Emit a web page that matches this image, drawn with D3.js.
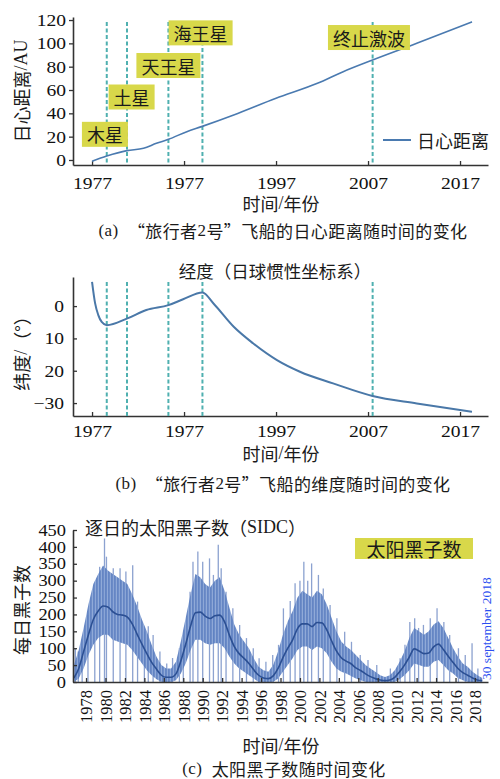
<!DOCTYPE html>
<html>
<head>
<meta charset="utf-8">
<script src="https://cdn.jsdelivr.net/npm/d3@7"></script>
<style>
  body { margin: 0; background: #fff; }
  svg { display: block; }
</style>
</head>
<body>
<div id="chart"></div>
<script>
// ---- data ----

// (a) heliocentric distance of Voyager 2, AU
const distYears = [1977.0, 1978.6, 1980.8, 1982.6, 1984.0, 1985.3, 1987.3, 1988.9, 1992.4, 1997.0, 2001.5, 2004.3, 2007.5, 2012.3, 2018.3]
const distAU = [-1, 3.4, 8, 10, 14.3, 17.7, 24.3, 28.6, 38.6, 52.9, 65.7, 75.7, 85.7, 100, 118.5]

// events (dashed lines) and their label boxes
const eventYears = [1978.6, 1980.8, 1985.3, 1989.0, 2007.5]
const eventNames = ['木星', '土星', '天王星', '海王星', '终止激波']
const eventLabelYears = [1978.4, 1981.3, 1985.3, 1988.8, 2007.1]
const eventLabelAU = [22, 54, 81, 109, 105]

// x ticks of (a) and (b), labels as printed
const voyTicks = [1977, 1987, 1997, 2007, 2017]
const voyTickLabels = ['1977', '1977', '1997', '2007', '2017']
const distTicks = [0, 20, 40, 60, 80, 100, 120]

// (b) latitude, degrees
const latYears = [1977.0, 1977.33, 1977.68, 1978.05, 1978.6, 1980.84, 1982.9, 1985.3, 1986.9, 1989.0, 1990.2, 1992.4, 1994.5, 1997.1, 1999.6, 2003.2, 2007.5, 2012.3, 2018.3]
const latDeg = [7.5, 0.9, -2.8, -4.9, -5.9, -3.8, -1.2, 0.3, 2.1, 4.2, 0.8, -6.4, -11.5, -16.7, -20.3, -23.9, -27.8, -30.1, -32.7]
const latTicks = [0, -10, -20, -30]
const latTickLabels = ['0', '10', '20', '\u221230']

// (c) daily sunspot number, sampled every half year
const sunYears = [
  1976.75, 1977.25, 1977.75, 1978.25, 1978.75, 1979.25, 1979.75, 1980.25, 1980.75, 1981.25,
  1981.75, 1982.25, 1982.75, 1983.25, 1983.75, 1984.25, 1984.75, 1985.25, 1985.75, 1986.25,
  1986.75, 1987.25, 1987.75, 1988.25, 1988.75, 1989.25, 1989.75, 1990.25, 1990.75, 1991.25,
  1991.75, 1992.25, 1992.75, 1993.25, 1993.75, 1994.25, 1994.75, 1995.25, 1995.75, 1996.25,
  1996.75, 1997.25, 1997.75, 1998.25, 1998.75, 1999.25, 1999.75, 2000.25, 2000.75, 2001.25,
  2001.75, 2002.25, 2002.75, 2003.25, 2003.75, 2004.25, 2004.75, 2005.25, 2005.75, 2006.25,
  2006.75, 2007.25, 2007.75, 2008.25, 2008.75, 2009.25, 2009.75, 2010.25, 2010.75, 2011.25,
  2011.75, 2012.25, 2012.75, 2013.25, 2013.75, 2014.25, 2014.75, 2015.25, 2015.75, 2016.25,
  2016.75, 2017.25, 2017.75, 2018.25, 2018.75]
// smoothed line
const sunSmooth = [
  12, 40, 90, 140, 185, 210, 225, 222, 208, 200,
  198, 192, 172, 142, 112, 84, 58, 38, 20, 14,
  14, 24, 62, 112, 165, 205, 207, 195, 188, 196,
  198, 178, 138, 105, 84, 70, 55, 36, 20, 12,
  10, 18, 40, 72, 100, 125, 158, 172, 172, 164,
  176, 175, 155, 122, 92, 72, 62, 54, 42, 34,
  24, 16, 10, 6, 4, 6, 14, 30, 50, 74,
  98, 92, 84, 86, 104, 112, 96, 76, 58, 40,
  28, 20, 12, 6, 4]
// upper edge of the dense daily band
const sunHigh = [
  50, 95, 160, 230, 290, 320, 345, 330, 320, 310,
  300, 290, 260, 225, 185, 150, 110, 75, 50, 40,
  40, 60, 120, 190, 260, 320, 310, 290, 280, 300,
  310, 270, 220, 170, 140, 120, 100, 70, 45, 35,
  30, 50, 90, 140, 180, 210, 250, 270, 260, 250,
  270, 260, 230, 190, 150, 120, 105, 95, 80, 65,
  50, 40, 30, 20, 15, 20, 35, 60, 90, 130,
  160, 150, 140, 150, 170, 180, 160, 130, 100, 75,
  55, 45, 30, 20, 12]
// lower edge of the dense daily band
const sunLow = [
  0, 10, 40, 80, 110, 130, 140, 140, 125, 120,
  115, 110, 95, 75, 55, 35, 20, 8, 0, 0,
  0, 5, 25, 55, 95, 125, 125, 115, 110, 115,
  115, 100, 75, 55, 40, 30, 20, 10, 0, 0,
  0, 0, 10, 30, 50, 70, 95, 105, 105, 95,
  105, 100, 85, 60, 40, 30, 25, 18, 10, 5,
  0, 0, 0, 0, 0, 0, 0, 8, 20, 35,
  55, 50, 45, 45, 60, 65, 50, 35, 25, 12,
  5, 0, 0, 0, 0]
// tallest daily spikes
const spikeYears = [
  1976.9, 1977.2, 1977.6, 1978.2, 1978.9, 1979.4, 1979.9, 1980.1, 1980.8, 1981.5,
  1982.1, 1982.8, 1983.3, 1984.0, 1984.4, 1984.9, 1985.6, 1986.3, 1986.9, 1987.6,
  1988.0, 1988.7, 1989.0, 1989.5, 1990.0, 1990.7, 1991.1, 1991.6, 1991.9, 1992.4,
  1993.1, 1993.8, 1994.5, 1995.2, 1995.8, 1996.5, 1997.2, 1997.8, 1998.3, 1999.0,
  1999.5, 2000.0, 2000.4, 2000.8, 2001.2, 2001.9, 2002.4, 2003.1, 2003.8, 2004.6,
  2005.3, 2006.2, 2007.0, 2007.9, 2009.3, 2010.3, 2010.8, 2011.3, 2011.8, 2012.2,
  2012.7, 2013.4, 2014.1, 2014.8, 2015.4, 2016.3, 2017.0, 2017.7, 2018.3]
const spikeValues = [
  100, 90, 105, 198, 267, 341, 425, 371, 337, 337,
  327, 346, 238, 149, 165, 139, 90, 55, 71, 100,
  110, 267, 356, 386, 356, 366, 317, 406, 337, 267,
  218, 169, 130, 100, 70, 60, 80, 110, 218, 240,
  292, 300, 356, 300, 351, 317, 277, 228, 189, 149,
  119, 80, 65, 50, 40, 70, 110, 178, 189, 160,
  169, 189, 218, 178, 139, 100, 80, 115, 40]
const sunTicks = [0, 50, 100, 150, 200, 250, 300, 350, 400, 450]
const sunYearTicks = [1978, 1980, 1982, 1984, 1986, 1988, 1990, 1992, 1994, 1996, 1998,
  2000, 2002, 2004, 2006, 2008, 2010, 2012, 2014, 2016, 2018]

// ---- setup ----
const W = 500, H = 779
const svg = d3.select('#chart').append('svg').attr('width', W).attr('height', H)

const SERIF = '"Liberation Serif", "Times New Roman", serif'
const CJK = '"Noto Sans CJK SC", sans-serif'
const axisColor = '#333'
const dashColor = '#4fb0b0'
const boxColor = '#d8d84a'
const WIDEN = 1.15 // the printed digits are a little wider than plain Times

function styleAxis(g, size = 17) {
  g.attr('font-family', null).attr('font-size', null)
  g.select('.domain').attr('stroke', axisColor).attr('stroke-width', 1.6)
  g.selectAll('.tick line').attr('stroke', axisColor).attr('stroke-width', 1.3)
  g.selectAll('.tick text')
    .attr('fill', '#111')
    .style('font-family', SERIF)
    .style('font-size', size + 'px')
}

function widenLeft(g, gap) {
  g.selectAll('.tick text')
    .attr('transform', `scale(${WIDEN},1)`)
    .attr('x', -gap / WIDEN)
}

// text with ascii parts in serif and the rest in the CJK font
function cjkText(x, y, str, size, opts = {}) {
  const t = svg.append('text')
    .attr('x', x).attr('y', y)
    .attr('text-anchor', opts.anchor || 'middle')
    .attr('dominant-baseline', 'central')
    .attr('transform', opts.rotate ? `rotate(-90, ${x}, ${y})` : null)
    .style('font-size', size + 'px')
    .style('font-family', CJK)
    .style('letter-spacing', (opts.spacing || 0) + 'px')
    .attr('fill', '#1a1a1a')
  const parts = str.match(/[\x20-\x7e\u00a0\u2212]+|[^\x20-\x7e\u00a0\u2212]+/g)
  parts.forEach(p => {
    t.append('tspan')
      .style('font-family', /^[\x20-\x7e\u00a0\u2212]/.test(p) ? SERIF : CJK)
      .text(p)
  })
  return t
}

// shared x scale for (a) and (b)
const xVoy = d3.scaleLinear().domain([1974.93, 2020.04]).range([73, 488])

function voyXAxis(yPos, pad) {
  const g = svg.append('g')
    .attr('transform', `translate(0,${yPos})`)
    .call(d3.axisBottom(xVoy).tickValues(voyTicks)
      .tickFormat((d, i) => voyTickLabels[i]).tickSize(-4).tickSizeOuter(0))
  styleAxis(g)
  g.selectAll('.tick text').attr('y', pad).attr('transform', `scale(${WIDEN},1)`)
}

function eventLines(yTop, yBottom) {
  svg.append('g').selectAll('line')
    .data(eventYears)
    .join('line')
    .attr('x1', d => xVoy(d)).attr('x2', d => xVoy(d))
    .attr('y1', yTop).attr('y2', yBottom)
    .attr('stroke', dashColor)
    .attr('stroke-width', 2)
    .attr('stroke-dasharray', '4,2.5')
}

// ---- (a) distance ----
const yDist = d3.scaleLinear().domain([-4.3, 122.6]).range([165, 17])

const gyA = svg.append('g').attr('transform', 'translate(73,0)')
  .call(d3.axisLeft(yDist).tickValues(distTicks).tickSize(4).tickSizeOuter(0))
styleAxis(gyA)
widenLeft(gyA, 7)
voyXAxis(165, 12)
eventLines(22, 165)

svg.append('path')
  .datum(distYears.map((d, i) => [d, distAU[i]]))
  .attr('fill', 'none')
  .attr('stroke', '#4a7ab0')
  .attr('stroke-width', 1.6)
  .attr('d', d3.line().x(d => xVoy(d[0])).y(d => yDist(d[1])).curve(d3.curveMonotoneX))

// label boxes
eventNames.forEach((name, i) => {
  const cx = xVoy(eventLabelYears[i]), cy = yDist(eventLabelAU[i])
  const t = cjkText(cx, cy, name, 18)
  const w = t.node().getComputedTextLength() + 10
  svg.insert('rect', () => t.node())
    .attr('x', cx - w / 2).attr('y', cy - 12.5)
    .attr('width', w).attr('height', 25)
    .attr('fill', boxColor)
})

// legend
svg.append('line').attr('x1', 383).attr('x2', 411).attr('y1', 140).attr('y2', 140)
  .attr('stroke', '#4a7ab0').attr('stroke-width', 2)
cjkText(417, 140, '日心距离', 18, { anchor: 'start' })

cjkText(21, 91, '日心距离/AU', 18, { rotate: true })
cjkText(281, 203, '时间/年份', 18)
cjkText(283, 230, '(a)\u00a0\u00a0“旅行者2号”飞船的日心距离随时间的变化', 17, { spacing: 0.4 })

// ---- (b) latitude ----
const yLat = d3.scaleLinear().domain([-34, 9]).range([416, 277])

cjkText(275, 270, '经度（日球惯性坐标系）', 17.5)

const gyB = svg.append('g').attr('transform', 'translate(73,0)')
  .call(d3.axisLeft(yLat).tickValues(latTicks)
    .tickFormat((d, i) => latTickLabels[i]).tickSize(-4).tickSizeOuter(0))
styleAxis(gyB)
widenLeft(gyB, 9)
voyXAxis(416, 9)
eventLines(282, 416)

svg.append('path')
  .datum(latYears.map((d, i) => [d, latDeg[i]]))
  .attr('fill', 'none')
  .attr('stroke', '#4a78a8')
  .attr('stroke-width', 2)
  .attr('d', d3.line().x(d => xVoy(d[0])).y(d => yLat(d[1])).curve(d3.curveMonotoneX))

cjkText(21, 349, '纬度/（°）', 18, { rotate: true })
cjkText(281, 453, '时间/年份', 18)
cjkText(283, 483, '(b)\u00a0\u00a0“旅行者2号”飞船的维度随时间的变化', 17, { spacing: 0.4 })

// ---- (c) sunspots ----
const xSun = d3.scaleLinear().domain([1976.66, 2019.34]).range([73, 488])
const ySun = d3.scaleLinear().domain([0, 450]).range([682, 530])

const defs = svg.append('defs')
const pat = defs.append('pattern').attr('id', 'sunTex')
  .attr('patternUnits', 'userSpaceOnUse').attr('width', 3).attr('height', 10)
pat.append('rect').attr('width', 3).attr('height', 10).attr('fill', '#8aa5d6')
pat.append('rect').attr('width', 1.8).attr('height', 10).attr('fill', '#5d80c1')

// spikes
svg.append('g').selectAll('line')
  .data(spikeYears.map((d, i) => [d, spikeValues[i]]))
  .join('line')
  .attr('x1', d => xSun(d[0])).attr('x2', d => xSun(d[0]))
  .attr('y1', d => ySun(d[1])).attr('y2', ySun(0))
  .attr('stroke', '#7892c8')
  .attr('stroke-width', 1.3)
  .attr('opacity', 0.85)

const sunRows = sunYears.map((d, i) => ({ yr: d, lo: sunLow[i], hi: sunHigh[i], sm: sunSmooth[i] }))

svg.append('path')
  .datum(sunRows)
  .attr('fill', 'url(#sunTex)')
  .attr('opacity', 0.95)
  .attr('d', d3.area().x(d => xSun(d.yr)).y0(d => ySun(d.lo)).y1(d => ySun(d.hi)))

svg.append('path')
  .datum(sunRows)
  .attr('fill', 'none')
  .attr('stroke', '#2b4f93')
  .attr('stroke-width', 1.6)
  .attr('d', d3.line().x(d => xSun(d.yr)).y(d => ySun(d.sm)).curve(d3.curveMonotoneX))

const gyC = svg.append('g').attr('transform', 'translate(73,0)')
  .call(d3.axisLeft(ySun).tickValues(sunTicks).tickSize(-4).tickSizeOuter(0))
styleAxis(gyC, 16)
widenLeft(gyC, 7)

const gxC = svg.append('g').attr('transform', 'translate(0,682)')
  .call(d3.axisBottom(xSun).tickValues(sunYearTicks).tickFormat(d3.format('d'))
    .tickSize(-4).tickSizeOuter(0))
styleAxis(gxC, 16.5)
gxC.selectAll('.tick text')
  .attr('transform', 'rotate(-90)')
  .attr('text-anchor', 'end')
  .attr('x', -8).attr('y', 0).attr('dy', '0.35em')

cjkText(85, 527, '逐日的太阳黑子数（SIDC）', 18, { anchor: 'start' })

const lt = cjkText(414, 548, '太阳黑子数', 19)
svg.insert('rect', () => lt.node())
  .attr('x', 355).attr('y', 538).attr('width', 118).attr('height', 21)
  .attr('fill', boxColor)

svg.append('text')
  .attr('transform', 'translate(486,680) rotate(-90)')
  .attr('dominant-baseline', 'central')
  .attr('fill', '#2b4ef0')
  .style('font-family', SERIF)
  .style('font-size', '13.5px')
  .text('30 september 2018')

cjkText(21, 610, '每日黑子数', 18, { rotate: true })
cjkText(281, 745, '时间/年份', 18)
cjkText(284, 768, '(c)\u00a0\u00a0太阳黑子数随时间变化', 17, { spacing: 0.4 })
</script>
</body>
</html>
